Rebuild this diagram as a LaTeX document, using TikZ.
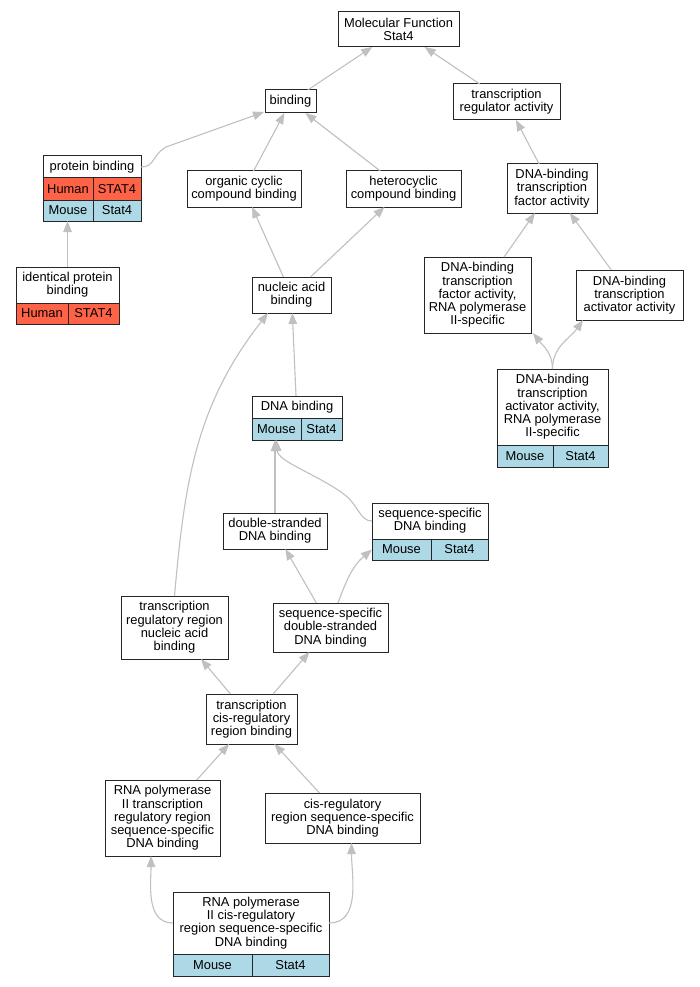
\documentclass[tikz,border=0pt]{standalone}
\usepackage{fontspec}
\setmainfont{Liberation Sans}
\usetikzlibrary{arrows.meta}
\definecolor{human}{RGB}{255,99,71}
\definecolor{mouse}{RGB}{173,216,230}
\definecolor{edgegray}{RGB}{192,192,192}
\newcommand{\bx}[6]{\node[box,minimum width={#4pt-#2pt},minimum height={#5pt-#3pt}] (#1) at ({(#2+#4)/2},{(#3+#5)/2}) {#6};}
\newcommand{\tl}[6]{\node[titlebox,minimum width={#4pt-#2pt},minimum height={#5pt-#3pt}] (#1) at ({(#2+#4)/2},{(#3+#5)/2}) {#6};}
\newcommand{\cl}[7]{\node[cellbox,fill=#6,minimum width={#4pt-#2pt},minimum height={#5pt-#3pt}] (#1) at ({(#2+#4)/2},{(#3+#5)/2}) {#7};}
\tikzset{
  txt/.style={font={\fontsize{12.9}{13.3}\selectfont},align=center,inner sep=0pt,outer sep=0pt},
  box/.style={txt,rectangle,draw=black!85,line width=1pt,fill=white},
  titlebox/.style={txt,rectangle},
  cellbox/.style={txt,rectangle,draw=black!85,line width=1pt},
  conn/.style={draw=edgegray,line width=1.1pt,-{Triangle[length=11pt,width=8.5pt,fill=edgegray]}}
}
\begin{document}
\begin{tikzpicture}[x=1pt,y=-1pt]
\useasboundingbox[fill=white] (0,0) rectangle (699,987);
% plain boxes
\bx{mf}{338}{12}{459}{47}{Molecular Function\\Stat4}
\bx{bind}{265}{90}{316}{113}{binding}
\bx{tra}{453}{84}{560}{120}{transcription\\regulator activity}
\bx{occ}{187}{171}{301}{207}{organic cyclic\\compound binding}
\bx{het}{346}{171}{461}{207}{heterocyclic\\compound binding}
\bx{dbtf}{507}{164}{597}{213}{DNA-binding\\transcription\\factor activity}
\bx{nab}{252}{277}{331}{313}{nucleic acid\\binding}
\bx{dbtf2}{424}{257}{531}{333}{DNA-binding\\transcription\\factor activity,\\RNA polymerase\\II-specific}
\bx{dbta}{576}{270}{683}{320}{DNA-binding\\transcription\\activator activity}
\bx{dsdna}{223}{513}{327}{549}{double-stranded\\DNA binding}
\bx{trrnab}{121}{596}{228}{659}{transcription\\regulatory region\\nucleic acid\\binding}
\bx{ssds}{273}{603}{388}{652}{sequence-specific\\double-stranded\\DNA binding}
\bx{tcis}{206}{694}{297}{744}{transcription\\cis-regulatory\\region binding}
\bx{rtrr}{105}{780}{220}{856}{RNA polymerase\\II transcription\\regulatory region\\sequence-specific\\DNA binding}
\bx{cisreg}{265}{793}{420}{843}{cis-regulatory\\region sequence-specific\\DNA binding}
% table boxes
\bx{pb}{43}{156}{141}{221}{}
\tl{pbT}{43}{156}{141}{178}{protein binding}
\cl{pbH1}{43}{178}{93}{200}{human}{Human}
\cl{pbH2}{93}{178}{141}{200}{human}{STAT4}
\cl{pbM1}{43}{200}{93}{221}{mouse}{Mouse}
\cl{pbM2}{93}{200}{141}{221}{mouse}{Stat4}
\bx{ipb}{16}{267}{119}{324}{}
\tl{ipbT}{16}{267}{119}{303}{identical protein\\binding}
\cl{ipbH1}{16}{303}{68}{324}{human}{Human}
\cl{ipbH2}{68}{303}{119}{324}{human}{STAT4}
\bx{dnab}{252}{396}{342}{440}{}
\tl{dnabT}{252}{396}{342}{418}{DNA binding}
\cl{dnabM1}{252}{418}{301}{440}{mouse}{Mouse}
\cl{dnabM2}{301}{418}{342}{440}{mouse}{Stat4}
\bx{ssdna}{372}{503}{488}{560}{}
\tl{ssdnaT}{372}{503}{488}{539}{sequence-specific\\DNA binding}
\cl{ssdnaM1}{372}{539}{431}{560}{mouse}{Mouse}
\cl{ssdnaM2}{431}{539}{488}{560}{mouse}{Stat4}
\bx{dbta2}{497}{369}{608}{467}{}
\tl{dbta2T}{497}{369}{608}{445}{DNA-binding\\transcription\\activator activity,\\RNA polymerase\\II-specific}
\cl{dbta2M1}{497}{445}{553}{467}{mouse}{Mouse}
\cl{dbta2M2}{553}{445}{608}{467}{mouse}{Stat4}
\bx{rc}{173}{892}{329}{976}{}
\tl{rcT}{173}{892}{329}{954}{RNA polymerase\\II cis-regulatory\\region sequence-specific\\DNA binding}
\cl{rcM1}{173}{954}{252}{976}{mouse}{Mouse}
\cl{rcM2}{252}{954}{329}{976}{mouse}{Stat4}
% connectors
\draw[conn] (bind) -- (mf);
\draw[conn] (tra) -- (mf);
\draw[conn] (pbT.east) .. controls +(14,0) and (152,155) .. (166,147) -- ([xshift=-1pt,yshift=1pt]bind.south west);
\draw[conn] (occ) -- (bind);
\draw[conn] (het) -- (bind);
\draw[conn] (dbtf) -- (tra);
\draw[conn] (ipb.north) -- (ipb.north |- pb.south);
\draw[conn] (nab) -- (occ);
\draw[conn] (nab) -- (het);
\draw[conn] (dbtf2) -- (dbtf);
\draw[conn] (dbta) -- (dbtf);
\draw[conn] (dbta2.north) to[out=90,in=-52] ([xshift=2pt]dbtf2.south east);
\draw[conn] (dbta2.north) to[out=90,in=-125] ([xshift=7pt]dbta.south west);
\draw[conn] (dnab) -- (nab);
\draw[conn] (trrnab.north) to[out=85,in=-128] ([xshift=16pt]nab.south west);
\draw[conn] (dsdna.north) -- (dsdna.north |- dnab.south);
\draw[conn] (ssdna.west |- ssdnaT) .. controls +(-12,0) and (358,505) .. (345,495) .. controls (319,475) and (278,462) .. (dnabM1.south);
\draw[conn] (ssds) -- (dsdna);
\draw[conn] ([xshift=7.5pt]ssds.north) to[out=70,in=-140] (ssdna.west |- ssdnaM1);
\draw[conn] (tcis) -- (trrnab);
\draw[conn] (tcis) -- (ssds);
\draw[conn] (rtrr) -- (tcis);
\draw[conn] (cisreg) -- (tcis);
\draw[conn] (rcT.west) to[out=180,in=-90] ([xshift=-11.5pt]rtrr.south);
\draw[conn] (rcT.east) to[out=0,in=-90] ([xshift=9pt]cisreg.south);
\end{tikzpicture}
\end{document}
